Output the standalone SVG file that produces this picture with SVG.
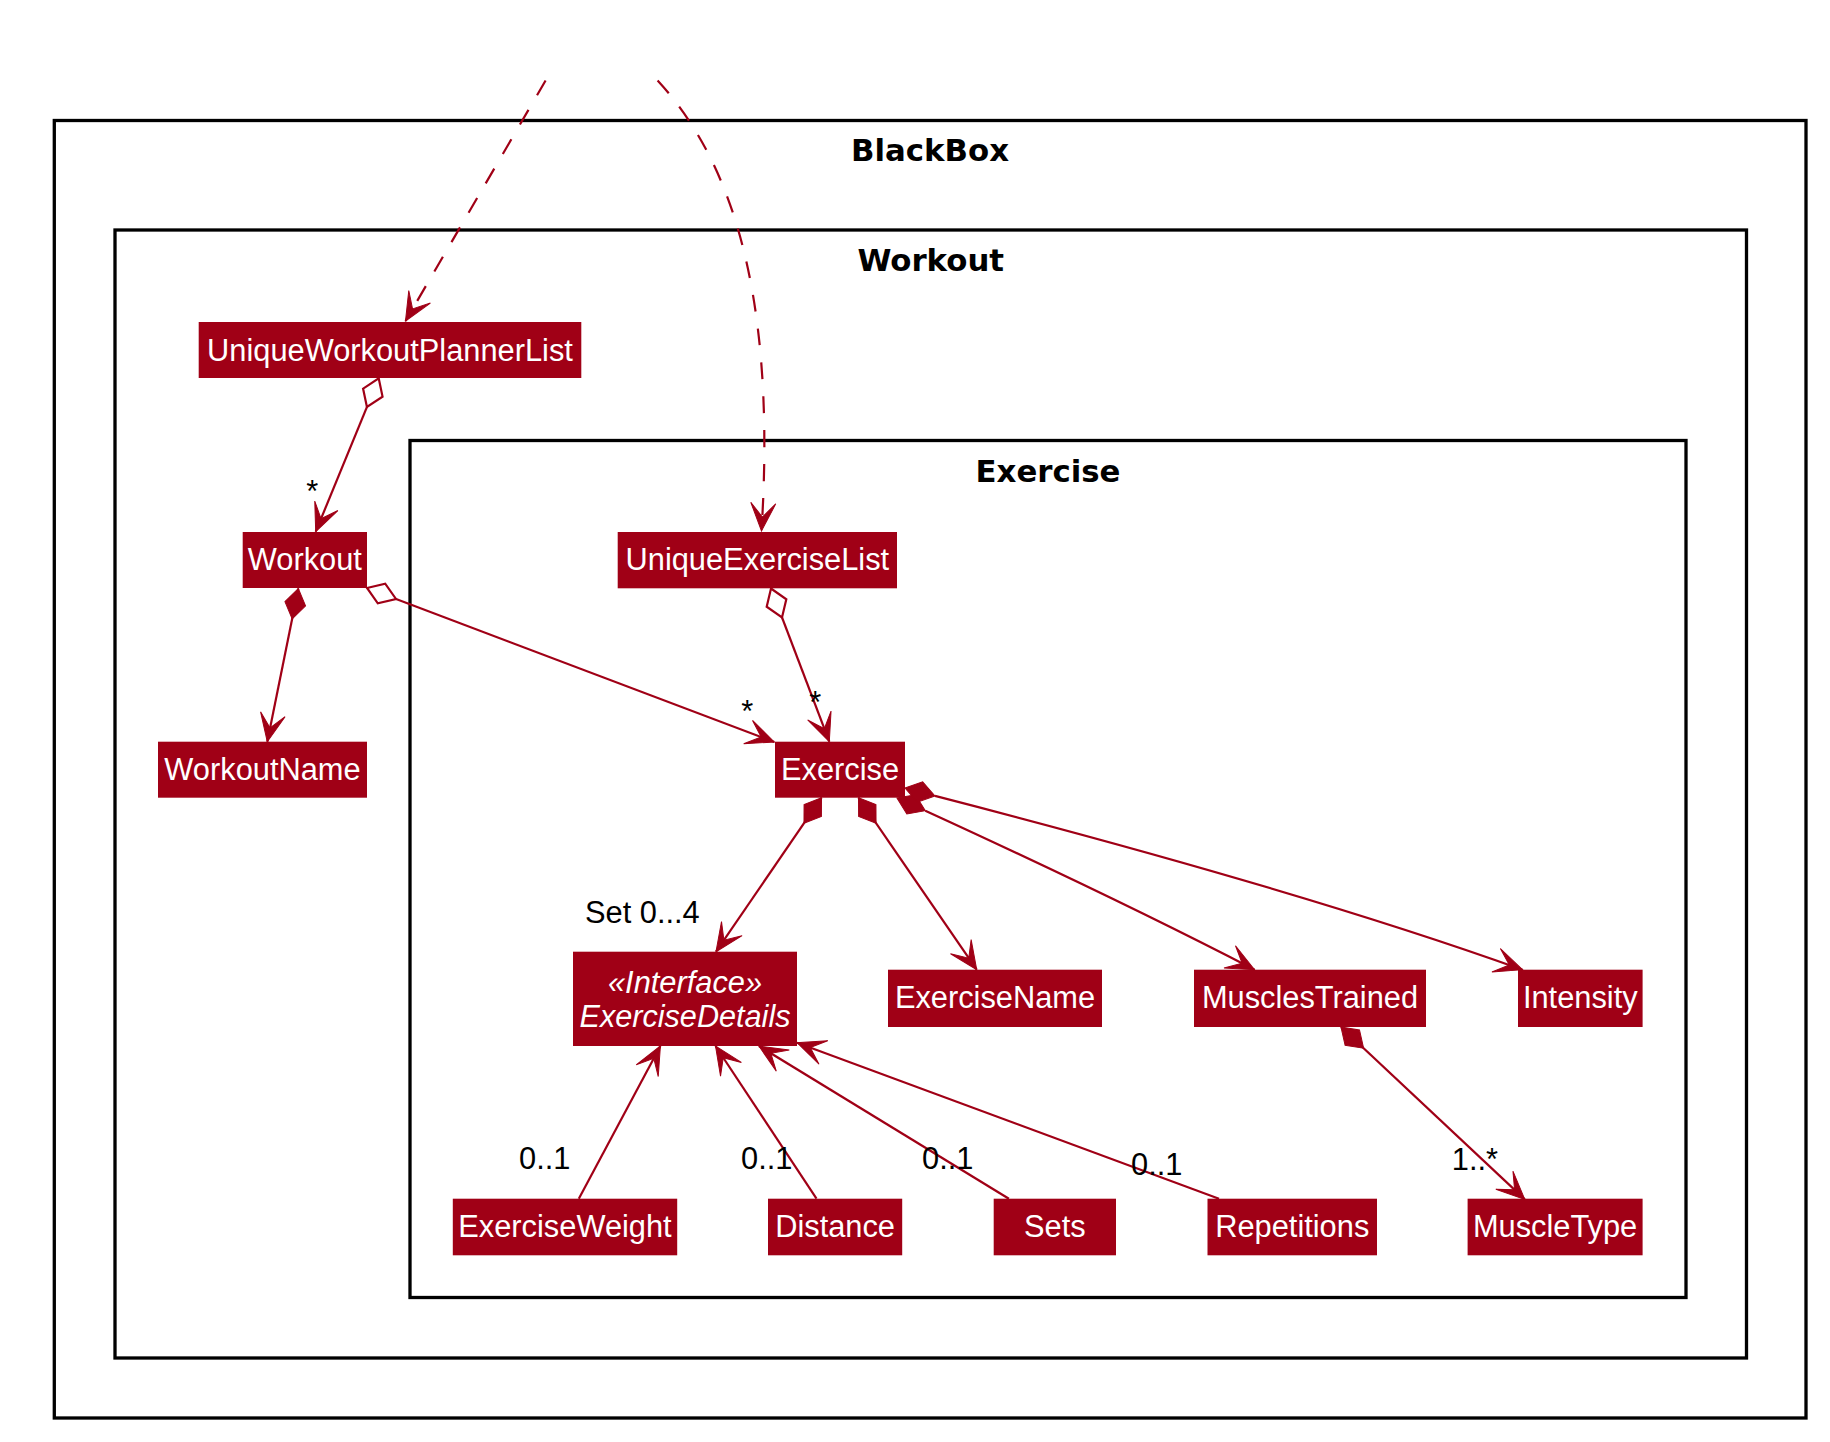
<svg xmlns="http://www.w3.org/2000/svg" width="1830" height="1442" viewBox="0 0 1830 1442">
<style>
.pkg{fill:none;stroke:#000;stroke-width:3.3}
.pt{font-family:"DejaVu Sans",sans-serif;font-weight:bold;font-size:30.8px;fill:#000;text-anchor:middle}
.cls{fill:#A00016}
.ct{font-family:"Liberation Sans",Arial,sans-serif;font-size:30.8px;fill:#fff;text-anchor:middle}
.it{font-style:italic}
.ln{fill:none;stroke:#A00016;stroke-width:2.2}
.dash{stroke-dasharray:17,17}
.ah{fill:#A00016;stroke:#A00016;stroke-width:1}
.comp{fill:#A00016;stroke:#A00016;stroke-width:1}
.agg{fill:#fff;stroke:#A00016;stroke-width:2.2}
.lbl{font-family:"Liberation Sans",Arial,sans-serif;font-size:30.8px;fill:#000}
.mid{text-anchor:middle}
</style>
<defs>
<path id="ah" d="M0,0 L-28,-12.5 L-14,0 L-28,12.5 Z"/>
<path id="dm" d="M0,0 L15.5,-10.5 L31,0 L15.5,10.5 Z"/>
</defs>
<rect width="1830" height="1442" fill="#fff"/>
<g id="pkg-BlackBox">
<rect class="pkg" x="54.3" y="120.5" width="1751.7" height="1297.5"/>
<text class="pt" x="930" y="161">BlackBox</text>
</g>
<g id="pkg-Workout">
<rect class="pkg" x="115" y="230" width="1631.5" height="1128"/>
<text class="pt" x="930.75" y="271">Workout</text>
</g>
<g id="pkg-Exercise">
<rect class="pkg" x="410" y="440.5" width="1276" height="857"/>
<text class="pt" x="1048" y="482">Exercise</text>
</g>
<g id="UniqueWorkoutPlannerList">
<rect class="cls" x="198.7" y="322" width="382.6" height="56"/>
<text class="ct" x="390" y="360.5">UniqueWorkoutPlannerList</text>
</g>
<g id="Workout">
<rect class="cls" x="242.7" y="532" width="124.3" height="56"/>
<text class="ct" x="304.85" y="570">Workout</text>
</g>
<g id="UniqueExerciseList">
<rect class="cls" x="617.7" y="532" width="279.3" height="56.3"/>
<text class="ct" x="757.35" y="570">UniqueExerciseList</text>
</g>
<g id="WorkoutName">
<rect class="cls" x="158" y="741.7" width="209" height="56"/>
<text class="ct" x="262.5" y="779.7">WorkoutName</text>
</g>
<g id="Exercise">
<rect class="cls" x="775" y="741.7" width="130" height="56"/>
<text class="ct" x="840" y="779.7">Exercise</text>
</g>
<g id="ExerciseDetails">
<rect class="cls" x="573" y="951.7" width="224" height="94.3"/>
<text class="ct it" x="685" y="992.7">«Interface»</text>
<text class="ct it" x="685" y="1027.3" textLength="211" lengthAdjust="spacingAndGlyphs">ExerciseDetails</text>
</g>
<g id="ExerciseName">
<rect class="cls" x="888" y="969.7" width="214" height="57.3"/>
<text class="ct" x="995" y="1008">ExerciseName</text>
</g>
<g id="MusclesTrained">
<rect class="cls" x="1194" y="969.7" width="232" height="57.3"/>
<text class="ct" x="1310" y="1008">MusclesTrained</text>
</g>
<g id="Intensity">
<rect class="cls" x="1518" y="969.7" width="124.6" height="57.3"/>
<text class="ct" x="1580.3" y="1008">Intensity</text>
</g>
<g id="ExerciseWeight">
<rect class="cls" x="452.8" y="1198.7" width="224.4" height="56.6"/>
<text class="ct" x="565" y="1237">ExerciseWeight</text>
</g>
<g id="Distance">
<rect class="cls" x="768" y="1198.7" width="134.2" height="56.6"/>
<text class="ct" x="835.1" y="1237">Distance</text>
</g>
<g id="Sets">
<rect class="cls" x="993.7" y="1198.7" width="122.3" height="56.6"/>
<text class="ct" x="1054.85" y="1237">Sets</text>
</g>
<g id="Repetitions">
<rect class="cls" x="1207.5" y="1198.7" width="169.5" height="56.6"/>
<text class="ct" x="1292.25" y="1237">Repetitions</text>
</g>
<g id="MuscleType">
<rect class="cls" x="1467.6" y="1198.7" width="175" height="56.6"/>
<text class="ct" x="1555.1" y="1237">MuscleType</text>
</g>
<g id="connectors">
<path class="ln dash" d="M545.6,80.5 L405.5,321"/>
<use href="#ah" class="ah" transform="translate(405.5,321) rotate(120.2)"/>
<path class="ln dash" d="M657.6,80.5 C725.6,154.5 777.3,281 761.5,531"/>
<use href="#ah" class="ah" transform="translate(761.5,531) rotate(93.6)"/>

<path class="ln" d="M378.7,378.3 L315.7,531.7"/>
<use href="#dm" class="agg" transform="translate(378.7,378.3) rotate(112.3)"/>
<use href="#ah" class="ah" transform="translate(315.7,531.7) rotate(112.3)"/>
<text class="lbl mid" x="312.3" y="502">*</text>

<path class="ln" d="M298.3,588.5 L267.3,741.7"/>
<use href="#dm" class="comp" transform="translate(298.3,588.5) rotate(101.4)"/>
<use href="#ah" class="ah" transform="translate(267.3,741.7) rotate(101.4)"/>

<path class="ln" d="M367,588 L774.3,742"/>
<use href="#dm" class="agg" transform="translate(367,588) rotate(20.7)"/>
<use href="#ah" class="ah" transform="translate(774.3,742) rotate(20.7)"/>
<text class="lbl mid" x="747.3" y="722">*</text>

<path class="ln" d="M771,588.5 L829.3,741.7"/>
<use href="#dm" class="agg" transform="translate(771,588.5) rotate(69.2)"/>
<use href="#ah" class="ah" transform="translate(829.3,741.7) rotate(69.2)"/>
<text class="lbl mid" x="815.3" y="712.5">*</text>

<path class="ln" d="M821.5,797.7 L716,951.7"/>
<use href="#dm" class="comp" transform="translate(821.5,797.7) rotate(124.4)"/>
<use href="#ah" class="ah" transform="translate(716,951.7) rotate(124.4)"/>
<text class="lbl" x="585" y="922.5">Set 0...4</text>

<path class="ln" d="M858.5,797.7 L976.7,969.7"/>
<use href="#dm" class="comp" transform="translate(858.5,797.7) rotate(55.5)"/>
<use href="#ah" class="ah" transform="translate(976.7,969.7) rotate(55.5)"/>

<path class="ln" d="M925.3,810.7 Q1120,900 1254.6,969.7"/>
<use href="#dm" class="comp" transform="translate(897,798) rotate(24.2)"/>
<use href="#ah" class="ah" transform="translate(1254.6,969.7) rotate(27.4)"/>

<path class="ln" d="M935,795.9 Q1300,890 1522.5,969.7"/>
<use href="#dm" class="comp" transform="translate(905,788) rotate(14.8)"/>
<use href="#ah" class="ah" transform="translate(1522.5,969.7) rotate(19.7)"/>

<path class="ln" d="M1341,1027 L1524.8,1199.4"/>
<use href="#dm" class="comp" transform="translate(1341,1027) rotate(43.2)"/>
<use href="#ah" class="ah" transform="translate(1524.8,1199.4) rotate(43.2)"/>
<text class="lbl" x="1451.8" y="1169.5">1..*</text>

<path class="ln" d="M578.8,1198.7 L660.4,1046"/>
<use href="#ah" class="ah" transform="translate(660.4,1046) rotate(-61.9)"/>
<text class="lbl" x="519" y="1169.3">0..1</text>

<path class="ln" d="M816.5,1198.7 L715.5,1046"/>
<use href="#ah" class="ah" transform="translate(715.5,1046) rotate(-123.5)"/>
<text class="lbl" x="741" y="1169.3">0..1</text>

<path class="ln" d="M1008.9,1198.7 L758.9,1046"/>
<use href="#ah" class="ah" transform="translate(758.9,1046) rotate(-148.6)"/>
<text class="lbl" x="922" y="1169.3">0..1</text>

<path class="ln" d="M1219,1198.7 L797.1,1042.7"/>
<use href="#ah" class="ah" transform="translate(797.1,1042.7) rotate(-159.7)"/>
<text class="lbl" x="1131" y="1175">0..1</text>
</g>
</svg>
